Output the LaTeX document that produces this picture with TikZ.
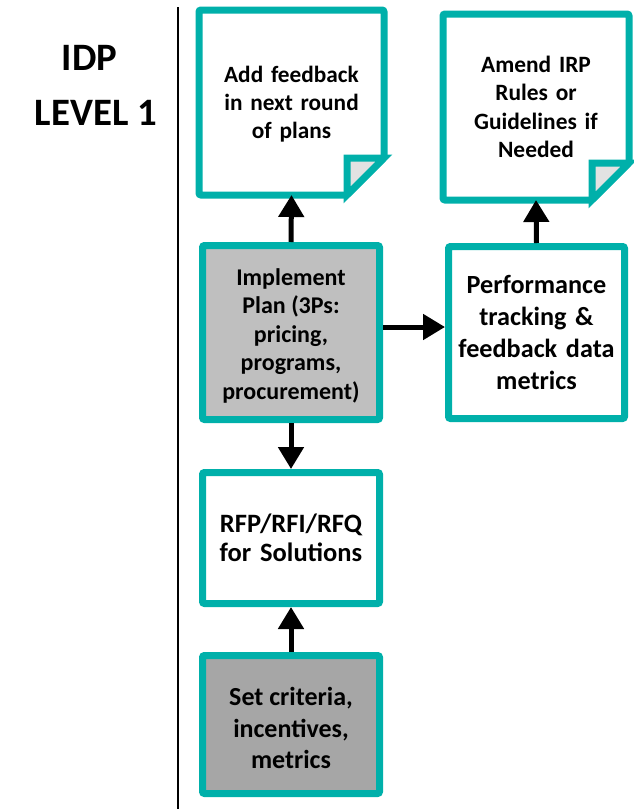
\documentclass[tikz,border=0pt]{standalone}
\usepackage{fontspec}
\setmainfont{Carlito}
\usetikzlibrary{arrows.meta}
\definecolor{tealline}{HTML}{00B0AA}
\definecolor{flapgray}{HTML}{E2E2E2}
\definecolor{lightfill}{HTML}{BFBFBF}
\definecolor{darkfill}{HTML}{A6A6A6}
\tikzset{
  box/.style={rectangle, draw=tealline, line width=7pt, rounded corners=2pt,
    inner sep=0pt, align=center, text width=172pt, fill=white},
  docbox/.style={rectangle, inner sep=0pt, align=center, text width=172pt,
    outer sep=3.5pt},
  docline/.style={draw=tealline, line width=7pt, rounded corners=2pt, fill=white},
  flap/.style={draw=tealline, line width=7pt, fill=flapgray, line join=miter},
  flowarrow/.style={draw=black, line width=5pt,
    -{Triangle[width=25pt,length=22pt]}},
}
\newcommand{\foldsize}{37pt}
\begin{document}
\begin{tikzpicture}[x=1pt, y=-1pt]
  \useasboundingbox (0,0) rectangle (633,809);

  % heading and divider
  \node[font=\bfseries\fontsize{38.8}{55}\selectfont, align=center, inner sep=0pt]
    (title) at (96,85) {IDP\hspace*{13pt}\\LEVEL 1};
  \draw[line width=1.6pt] (178,7) -- (178,809);

  % documents with a folded corner
  \node[docbox, minimum width=178pt, minimum height=178pt]
    (feedback) at (291.5,102.5) {};
  \path[docline] (feedback.north west) -- (feedback.north east)
    -- ([yshift=\foldsize]feedback.south east)
    -- ([xshift=-\foldsize]feedback.south east)
    -- (feedback.south west) -- cycle;
  \path[flap] ([xshift=-\foldsize,yshift=\foldsize]feedback.south east)
    -- ([yshift=\foldsize]feedback.south east)
    -- ([xshift=-\foldsize]feedback.south east) -- cycle;
  \node[docbox, font=\bfseries\fontsize{23.3}{28}\selectfont]
    at ([yshift=-1.5pt]feedback.center) {Add feedback\\in next round\\of plans};

  \node[docbox, minimum width=179pt, minimum height=179pt]
    (amend) at (536,107) {};
  \path[docline] (amend.north west) -- (amend.north east)
    -- ([yshift=\foldsize]amend.south east)
    -- ([xshift=-\foldsize]amend.south east)
    -- (amend.south west) -- cycle;
  \path[flap] ([xshift=-\foldsize,yshift=\foldsize]amend.south east)
    -- ([yshift=\foldsize]amend.south east)
    -- ([xshift=-\foldsize]amend.south east) -- cycle;
  \node[docbox, font=\bfseries\fontsize{23.4}{28.4}\selectfont]
    at (amend.center) {Amend IRP\\Rules or\\Guidelines if\\Needed};

  % process boxes
  \node[box, fill=lightfill, minimum width=177pt, minimum height=174pt,
    font=\bfseries\fontsize{24}{28.5}\selectfont]
    (implement) at (291,332.5) {};
  \node[align=center, inner sep=0pt, font=\bfseries\fontsize{24}{28.5}\selectfont]
    at ([yshift=-3pt]implement.center)
    {Implement\\Plan (3Ps:\\pricing,\\programs,\\procurement)};
  \node[box, minimum width=176pt, minimum height=172pt,
    font=\bfseries\fontsize{26.2}{32}\selectfont]
    (perf) at (536.5,332.5)
    {Performance\\tracking \&\\feedback data\\metrics};
  \node[box, minimum width=177pt, minimum height=131pt,
    font=\bfseries\fontsize{26.5}{29}\selectfont]
    (rfp) at (291,538) {RFP/RFI/RFQ\\for Solutions};
  \node[box, fill=darkfill, minimum width=177pt, minimum height=138pt]
    (criteria) at (291,724.5) {};
  \node[align=center, inner sep=0pt, font=\bfseries\fontsize{26}{31.5}\selectfont]
    at ([yshift=-3.5pt]criteria.center) {Set criteria,\\incentives,\\metrics};

  % connectors
  \draw[flowarrow] (implement.north) -- (feedback.south);
  \draw[flowarrow] ([yshift=5.5pt]implement.east) -- ([yshift=5.5pt]perf.west);
  \draw[flowarrow] (perf.north) -- (amend.south);
  \draw[flowarrow] (implement.south) -- (rfp.north);
  \draw[flowarrow] (criteria.north) -- (rfp.south);
\end{tikzpicture}
\end{document}
